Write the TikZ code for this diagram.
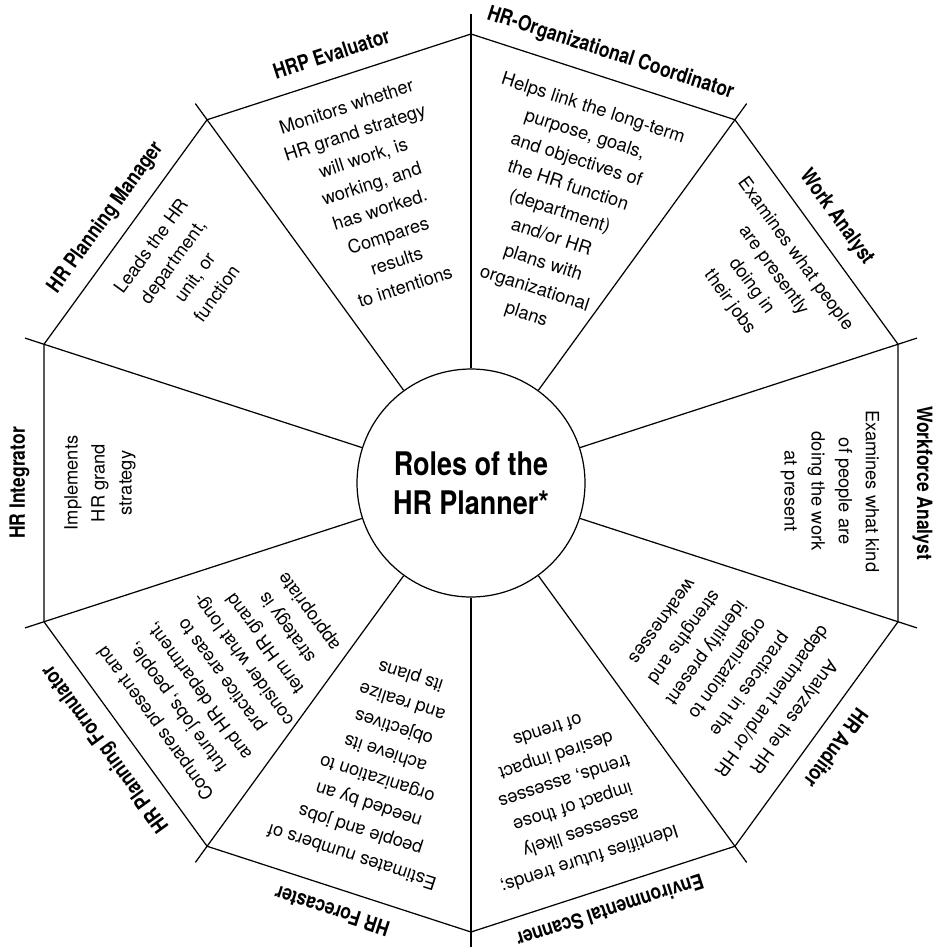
\documentclass[tikz,border=0pt]{standalone}
\usepackage{fontspec}
\setmainfont{TeX Gyre Heros}
\newfontfamily\narrowfont[FakeStretch=0.83]{TeX Gyre Heros}
\usetikzlibrary{calc}

\begin{document}
\begin{tikzpicture}[
	line width=0.7pt,
	hub/.style = {draw,circle,minimum size=4.56cm,inner sep=0pt,align=center,
		font=\narrowfont\bfseries\fontsize{18.5}{22}\selectfont},
	role/.style = {inner sep=0pt,font=\narrowfont\bfseries\fontsize{12}{14}\selectfont},
	duty/.style = {inner sep=0pt,align=center,font=\fontsize{10.4}{15.4}\selectfont}
	]

	\useasboundingbox (0,0) rectangle (18.7,-18.94);

	\coordinate (c) at (9.42,-9.66);
	\node[hub] (hub) at (c) {Roles of the\\HR Planner*};

	% corners of the wheel and the spokes running past them
	\foreach \a [count=\i] in {90,54,18,-18,-54,-90,-126,-162,162,126} {
		\coordinate (v\i) at ($(c)+(\a:8.98)$);
		\coordinate (t\i) at ($(c)+(\a:9.38)$);
		\draw (hub) -- (t\i);
	}
	\draw (v1) -- (v2) -- (v3) -- (v4) -- (v5) -- (v6) -- (v7) -- (v8) -- (v9) -- (v10) -- cycle;

	% role names along the rim
	\node[role,rotate=18] (evaluator) at ($(c)+(108:9.03)$) {HRP Evaluator};
	\node[role,rotate=-18] (coordinator) at ($(c)+(72:9.03)$) {HR-Organizational Coordinator};
	\node[role,rotate=-54] (work) at ($(c)+(36:9.03)$) {Work Analyst};
	\node[role,rotate=-90] (workforce) at ($(c)+(0:9.03)$) {Workforce Analyst};
	\node[role,rotate=-126] (auditor) at ($(c)+(-36:9.03)$) {HR Auditor};
	\node[role,rotate=-162] (scanner) at ($(c)+(-72:9.0)$) {Environmental Scanner};
	\node[role,rotate=162] (forecaster) at ($(c)+(-108:9.0)$) {HR Forecaster};
	\node[role,rotate=126] (formulator) at ($(c)+(-144:9.03)$) {HR Planning Formulator};
	\node[role,rotate=90] (integrator) at ($(c)+(180:9.03)$) {HR Integrator};
	\node[role,rotate=54] (manager) at ($(c)+(144:9.03)$) {HR Planning Manager};

	% what each role does
	\node[duty,rotate=18] (evaluatortext) at ($(c)+(108.4:6.04)$)
		{Monitors whether\\HR grand strategy\\will work, is\\working, and\\has worked.\\Compares\\results\\to intentions};
	\node[duty,rotate=-18] (coordinatortext) at ($(c)+(71.9:5.7)$)
		{Helps link the long-term\\purpose, goals,\\and objectives of\\the HR function\\(department)\\and/or HR\\plans with\\organizational\\plans};
	\node[duty,rotate=-54] (worktext) at ($(c)+(35.1:7.12)$)
		{Examines what people\\are presently\\doing in\\their jobs};
	\node[duty,rotate=-90] (workforcetext) at ($(c)+(-1.3:7.18)$)
		{Examines what kind\\of people are\\doing the work\\at present};
	\node[duty,rotate=-126] (auditortext) at ($(c)+(-35.9:6.36)$)
		{Analyzes the HR\\department and/or HR\\practices in the\\organization to\\identify present\\strengths and\\weaknesses};
	\node[duty,rotate=-162] (scannertext) at ($(c)+(-72.6:6.54)$)
		{Identifies future trends;\\assesses likely\\impact of those\\trends, assesses\\desired impact\\of trends};
	\node[duty,rotate=162] (forecastertext) at ($(c)+(-107.6:5.92)$)
		{Estimates numbers of\\people and jobs\\needed by an\\organization to\\achieve its\\objectives\\and realize\\its plans};
	\node[duty,rotate=126] (formulatortext) at ($(c)+(-142.3:6.02)$)
		{Compares present and\\future jobs, people,\\and HR department,\\practice areas to\\consider what long-\\term HR grand\\strategy is\\appropriate};
	\node[duty,rotate=90] (integratortext) at ($(c)+(180:7.42)$)
		{Implements\\HR grand\\strategy};
	\node[duty,rotate=54] (managertext) at ($(c)+(143.4:7.16)$)
		{Leads the HR\\department,\\unit, or\\function};

\end{tikzpicture}
\end{document}
